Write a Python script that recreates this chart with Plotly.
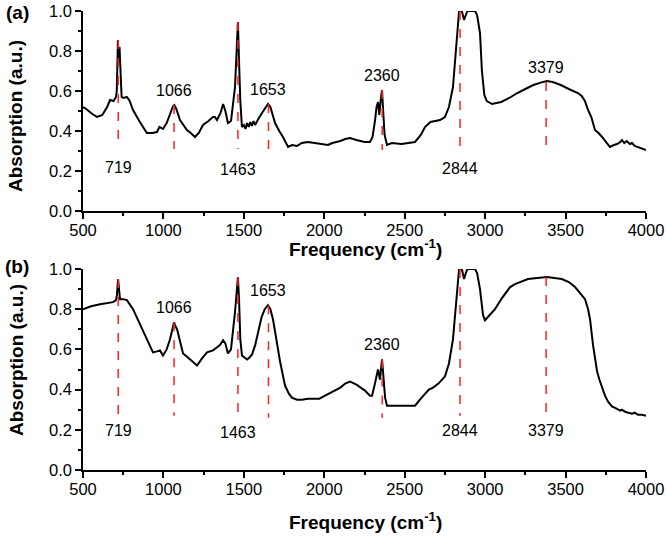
import plotly.graph_objects as go

# ---------------- data ----------------
freq_a = [500, 520, 550, 587, 620, 650, 668, 690, 705, 710, 717, 721, 727, 733, 740, 752, 773, 790, 811,
          850, 897, 930, 960, 975, 985, 997, 1020, 1045, 1060, 1068, 1080, 1103, 1146, 1170, 1196, 1220,
          1246, 1280, 1308, 1320, 1333, 1355, 1371, 1385, 1401, 1420, 1432, 1445, 1455, 1463, 1470, 1478,
          1488, 1500, 1510, 1520, 1530, 1540, 1550, 1560, 1570, 1580, 1590, 1613, 1635, 1650, 1665, 1694,
          1720, 1743, 1775, 1800, 1830, 1860, 1899, 1940, 1980, 2023, 2050, 2100, 2130, 2160, 2200, 2250,
          2284, 2300, 2315, 2325, 2334, 2342, 2350, 2359, 2366, 2375, 2390, 2420, 2480, 2530, 2564, 2600,
          2626, 2660, 2688, 2720, 2750, 2775, 2800, 2820, 2838, 2855, 2869, 2880, 2890, 2920, 2937, 2950,
          2968, 2980, 2995, 3010, 3043, 3070, 3100, 3150, 3200, 3250, 3300, 3350, 3384, 3420, 3470, 3520,
          3577, 3600, 3620, 3640, 3660, 3683, 3705, 3727, 3750, 3776, 3800, 3820, 3840, 3851, 3865, 3880,
          3900, 3913, 3930, 3950, 3975, 4000]
abs_a = [0.52, 0.51, 0.49, 0.47, 0.48, 0.52, 0.555, 0.55, 0.57, 0.60, 0.855, 0.74, 0.82, 0.65, 0.57, 0.565,
         0.57, 0.55, 0.505, 0.45, 0.39, 0.39, 0.395, 0.42, 0.415, 0.41, 0.44, 0.49, 0.525, 0.53, 0.51, 0.455,
         0.405, 0.39, 0.37, 0.39, 0.43, 0.45, 0.47, 0.47, 0.455, 0.49, 0.535, 0.50, 0.44, 0.45, 0.55, 0.62,
         0.80, 0.945, 0.75, 0.55, 0.42, 0.43, 0.41, 0.44, 0.42, 0.445, 0.425, 0.45, 0.43, 0.45, 0.46, 0.49,
         0.52, 0.535, 0.52, 0.44, 0.40, 0.37, 0.32, 0.33, 0.325, 0.34, 0.345, 0.34, 0.335, 0.33, 0.34, 0.35,
         0.36, 0.365, 0.355, 0.345, 0.345, 0.37, 0.45, 0.52, 0.545, 0.48, 0.55, 0.605, 0.50, 0.38, 0.33,
         0.34, 0.335, 0.34, 0.345, 0.38, 0.42, 0.445, 0.45, 0.455, 0.47, 0.52, 0.62, 0.80, 1.0, 1.0, 0.955,
         0.98, 1.0, 1.0, 1.0, 0.98, 0.89, 0.70, 0.58, 0.55, 0.535, 0.54, 0.545, 0.565, 0.59, 0.61, 0.63,
         0.643, 0.65, 0.645, 0.63, 0.61, 0.59, 0.575, 0.55, 0.505, 0.47, 0.405, 0.39, 0.37, 0.345, 0.32,
         0.33, 0.335, 0.345, 0.355, 0.34, 0.35, 0.335, 0.34, 0.325, 0.32, 0.31, 0.305]

freq_b = [500, 550, 606, 650, 687, 705, 711, 718, 724, 730, 750, 773, 811, 840, 873, 905, 935, 960, 979,
          997, 1020, 1041, 1058, 1066, 1075, 1085, 1100, 1122, 1145, 1165, 1185, 1209, 1240, 1271, 1308,
          1330, 1350, 1371, 1385, 1401, 1420, 1445, 1455, 1463, 1470, 1478, 1488, 1505, 1520, 1535, 1551,
          1570, 1588, 1610, 1630, 1650, 1665, 1681, 1700, 1725, 1756, 1780, 1799, 1830, 1860, 1899, 1940,
          1970, 2005, 2040, 2067, 2100, 2130, 2160, 2200, 2253, 2284, 2297, 2315, 2334, 2346, 2352, 2359,
          2366, 2378, 2390, 2450, 2520, 2564, 2600, 2626, 2650, 2676, 2710, 2750, 2775, 2800, 2820, 2838,
          2855, 2869, 2880, 2890, 2937, 2950, 2968, 2987, 2999, 3030, 3061, 3100, 3124, 3155, 3186, 3266,
          3384, 3477, 3520, 3559, 3590, 3621, 3640, 3652, 3671, 3685, 3696, 3710, 3727, 3745, 3764, 3790,
          3805, 3826, 3840, 3850, 3870, 3890, 3913, 3930, 3950, 3975, 4000]
abs_b = [0.80, 0.815, 0.825, 0.83, 0.835, 0.845, 0.87, 0.95, 0.90, 0.85, 0.85, 0.845, 0.80, 0.75, 0.70,
         0.64, 0.585, 0.59, 0.595, 0.57, 0.60, 0.65, 0.71, 0.735, 0.715, 0.70, 0.65, 0.58, 0.565, 0.55,
         0.54, 0.52, 0.555, 0.585, 0.595, 0.61, 0.62, 0.645, 0.63, 0.58, 0.60, 0.785, 0.88, 0.96, 0.85,
         0.65, 0.57, 0.56, 0.55, 0.56, 0.575, 0.62, 0.685, 0.76, 0.80, 0.82, 0.80, 0.75, 0.66, 0.54, 0.42,
         0.38, 0.36, 0.35, 0.35, 0.355, 0.355, 0.355, 0.37, 0.385, 0.395, 0.41, 0.43, 0.44, 0.425, 0.395,
         0.37, 0.37, 0.43, 0.50, 0.45, 0.50, 0.55, 0.48, 0.36, 0.32, 0.32, 0.32, 0.32, 0.355, 0.38, 0.40,
         0.41, 0.43, 0.465, 0.53, 0.65, 0.82, 1.0, 1.0, 0.95, 0.98, 1.0, 1.0, 0.98, 0.90, 0.77, 0.745, 0.77,
         0.80, 0.85, 0.876, 0.91, 0.925, 0.95, 0.96, 0.95, 0.935, 0.91, 0.88, 0.85, 0.80, 0.75, 0.62, 0.55,
         0.49, 0.45, 0.41, 0.37, 0.34, 0.315, 0.31, 0.30, 0.295, 0.30, 0.29, 0.285, 0.28, 0.285, 0.275,
         0.275, 0.27]

peaks = [719, 1066, 1463, 1653, 2360, 2844, 3379]
peak_labels = ["719", "1066", "1463", "1653", "2360", "2844", "3379"]
mark_top_a = [0.855, 0.53, 0.945, 0.535, 0.605, 1.0, 0.645]
mark_bot_a = [0.32, 0.31, 0.31, 0.305, 0.305, 0.315, 0.325]
label_above_a = [False, True, False, True, True, False, True]
mark_top_b = [0.95, 0.735, 0.96, 0.82, 0.55, 1.0, 0.96]
mark_bot_b = [0.27, 0.27, 0.26, 0.26, 0.26, 0.27, 0.27]
label_above_b = [False, True, False, True, True, False, False]

x_ticks = [500, 1000, 1500, 2000, 2500, 3000, 3500, 4000]
y_ticks = [0.0, 0.2, 0.4, 0.6, 0.8, 1.0]

# ---------------- figure ----------------
FONT = "Liberation Sans, Arial, sans-serif"
W, H = 666, 539
L, R, T, B = 83, 20, 11, 69
plot_h = H - T - B
plot_w = W - L - R


def ypaper(px):
    return (H - B - px) / plot_h


def xpaper(px):
    return (px - L) / plot_w


fig = go.Figure()

panels = [
    ("x", "y", freq_a, abs_a, mark_top_a, mark_bot_a, label_above_a, 15, -20),
    ("x2", "y2", freq_b, abs_b, mark_top_b, mark_bot_b, label_above_b, 15, -15),
]

annotations = []
for xa, ya, fx, fy, mt, mb, above, up, down in panels:
    fig.add_trace(go.Scatter(x=fx, y=fy, mode="lines", xaxis=xa, yaxis=ya,
                             line=dict(color="black", width=2), showlegend=False,
                             hoverinfo="skip"))
    dx, dy = [], []
    for p, t, b in zip(peaks, mt, mb):
        dx += [p, p, None]
        dy += [t, b, None]
    fig.add_trace(go.Scatter(x=dx, y=dy, mode="lines", xaxis=xa, yaxis=ya,
                             line=dict(color="#ff2020", width=1.5, dash="dash"),
                             showlegend=False, hoverinfo="skip"))
    for p, lab, t, b, ab in zip(peaks, peak_labels, mt, mb, above):
        annotations.append(dict(
            x=p, y=t if ab else b, xref=xa, yref=ya, text=lab, showarrow=False,
            xanchor="center", yanchor="middle", yshift=up if ab else down,
            font=dict(family=FONT, size=16, color="black")))

axis_common = dict(
    range=[500, 4000], tickvals=x_ticks, ticks="outside", ticklen=6, tickwidth=1.5,
    tickcolor="black", showline=True, linecolor="black", linewidth=1.5, showgrid=False,
    zeroline=False, mirror=False, automargin=False, ticklabelstandoff=-3,
    tickfont=dict(family=FONT, size=16.5, color="black"),
    minor=dict(dtick=250, tick0=500, ticks="outside", ticklen=3.5, tickwidth=1.5,
               tickcolor="black", showgrid=False),
)
yaxis_common = dict(
    range=[0, 1.0], tickvals=y_ticks, tickformat=".1f", ticks="outside", ticklen=6,
    tickwidth=1.5, tickcolor="black", showline=True, linecolor="black", linewidth=1.5,
    showgrid=False, zeroline=False, mirror=False, automargin=False,
    tickfont=dict(family=FONT, size=16.5, color="black"),
    minor=dict(dtick=0.1, tick0=0, ticks="outside", ticklen=3.5, tickwidth=1.5,
               tickcolor="black", showgrid=False),
)

fig.update_layout(
    width=W, height=H,
    margin=dict(l=L, r=R, t=T, b=B, autoexpand=False),
    paper_bgcolor="white", plot_bgcolor="white",
    xaxis=dict(domain=[0, 1], anchor="y", **axis_common),
    yaxis=dict(domain=[ypaper(211), 1], anchor="x", **yaxis_common),
    xaxis2=dict(domain=[0, 1], anchor="y2", **axis_common),
    yaxis2=dict(domain=[0, ypaper(269)], anchor="x2", **yaxis_common),
)

title_font = dict(family=FONT, size=19, color="black")
annotations += [
    dict(x=xpaper(365), y=ypaper(248), xref="paper", yref="paper",
         text="<b>Frequency (cm<sup>-1</sup>)</b>", showarrow=False,
         xanchor="center", yanchor="middle", font=title_font),
    dict(x=xpaper(365), y=ypaper(521), xref="paper", yref="paper",
         text="<b>Frequency (cm<sup>-1</sup>)</b>", showarrow=False,
         xanchor="center", yanchor="middle", font=title_font),
    dict(x=xpaper(16), y=ypaper(116), xref="paper", yref="paper",
         text="<b>Absorption (a.u.)</b>", showarrow=False, textangle=-90,
         xanchor="center", yanchor="middle", font=title_font),
    dict(x=xpaper(16), y=ypaper(360), xref="paper", yref="paper",
         text="<b>Absorption (a.u.)</b>", showarrow=False, textangle=-90,
         xanchor="center", yanchor="middle", font=title_font),
    dict(x=xpaper(17), y=ypaper(12), xref="paper", yref="paper",
         text="<b>(a)</b>", showarrow=False, xanchor="center", yanchor="middle",
         font=title_font),
    dict(x=xpaper(17), y=ypaper(266), xref="paper", yref="paper",
         text="<b>(b)</b>", showarrow=False, xanchor="center", yanchor="middle",
         font=title_font),
]
fig.update_layout(annotations=annotations)

fig.write_html("out.html", config={"displayModeBar": False},
               post_script="document.body.style.margin='0';document.body.style.padding='0';")
